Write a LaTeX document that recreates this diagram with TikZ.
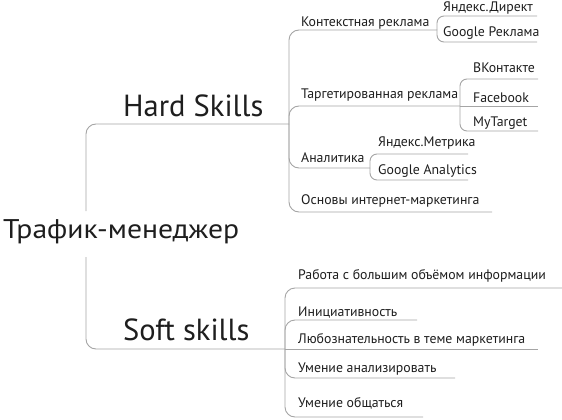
\documentclass[tikz,border=0pt]{standalone}
\usepackage{fontspec}
\setmainfont{PT Sans}
\definecolor{txt}{RGB}{30,30,30}
\definecolor{ln}{RGB}{165,165,165}
\tikzset{
  conn/.style={draw=ln, line width=0.9pt, rounded corners=10pt},
  subconn/.style={draw=ln, line width=0.9pt, rounded corners=7pt},
  lbl/.style={anchor=base west, inner sep=0pt, text=txt, font=\fontsize{13.8}{16}\selectfont},
  big/.style={anchor=base west, inner sep=0pt, text=txt, font=\fontsize{30.5}{36}\selectfont},
  rootlbl/.style={anchor=base west, inner sep=0pt, text=txt, font=\fontsize{27}{32}\selectfont},
}
\begin{document}
\begin{tikzpicture}[x=1pt,y=-1pt]
\useasboundingbox[fill=white] (0,0) rectangle (562,420);
% root
\node[rootlbl] (root) at (3,238) {\scalebox{1.1}[1]{Трафик-менеджер}};
\coordinate (rootT) at (86,211);
\coordinate (rootB) at (86,257);
% hard / soft
\node[big] (hard) at (123,116) {Hard Skills};
\node[big] (soft) at (123,340) {Soft skills};
\coordinate (H) at (289,124);
\coordinate (S) at (285,349);
\draw[conn] (rootT) -- (rootT |- H) -- (H);
\draw[conn] (rootB) -- (rootB |- S) -- (S);
% hard children
\node[lbl] (kr) at (301,27) {Контекстная реклама};
\node[lbl] (tr) at (301,99) {Таргетированная реклама};
\node[lbl] (an) at (301,162) {Аналитика};
\node[lbl] (om) at (301,204) {Основы интернет-маркетинга};
\coordinate (KR) at (437,30);
\coordinate (TR) at (460,106);
\coordinate (AN) at (370,168);
\coordinate (OMe) at (492,212);
\draw[conn] (H) -- (H |- KR) -- (KR);
\draw[conn] (H) -- (H |- TR) -- (TR);
\draw[conn] (H) -- (H |- AN) -- (AN);
\draw[conn] (H) -- (H |- OMe) -- (OMe);
% kontekst subs
\node[lbl] (yd) at (443,12) {Яндекс.Директ};
\node[lbl] (gr) at (443,37) {Google Реклама};
\coordinate (YDe) at (537,16);
\coordinate (GRe) at (537,42);
\draw[subconn] (KR) -- (KR |- YDe) -- (YDe);
\draw[subconn] (KR) -- (KR |- GRe) -- (GRe);
% target subs
\node[lbl] (vk) at (473,72) {ВКонтакте};
\node[lbl] (fb) at (473,102) {Facebook};
\node[lbl] (mt) at (473,126) {MyTarget};
\coordinate (VKe) at (538,79);
\coordinate (FBe) at (538,106);
\coordinate (MTe) at (538,131);
\draw[subconn] (TR) -- (TR |- VKe) -- (VKe);
\draw[subconn] (TR) -- (FBe);
\draw[subconn] (TR) -- (TR |- MTe) -- (MTe);
% analytics subs
\node[lbl] (ym) at (378,146) {Яндекс.Метрика};
\node[lbl] (ga) at (378,174) {Google Analytics};
\coordinate (YMe) at (468,154);
\coordinate (GAe) at (468,180);
\draw[subconn] (AN) -- (AN |- YMe) -- (YMe);
\draw[subconn] (AN) -- (AN |- GAe) -- (GAe);
% soft children
\node[lbl] (rb) at (298,279) {Работа с большим объёмом информации};
\node[lbl] (in) at (298,316) {Инициативность};
\node[lbl] (lb) at (298,343) {Любознательность в теме маркетинга};
\node[lbl] (ua) at (298,372) {Умение анализировать};
\node[lbl] (uo) at (298,407) {Умение общаться};
\coordinate (RBe) at (562,288);
\coordinate (INe) at (417,320);
\coordinate (LBe) at (538,349);
\coordinate (UAe) at (455,378);
\coordinate (UOe) at (423,417);
\draw[conn] (S) -- (S |- RBe) -- (RBe);
\draw[conn] (S) -- (S |- INe) -- (INe);
\draw[conn] (S) -- (LBe);
\draw[conn] (S) -- (S |- UAe) -- (UAe);
\draw[conn] (S) -- (S |- UOe) -- (UOe);
\end{tikzpicture}
\end{document}
